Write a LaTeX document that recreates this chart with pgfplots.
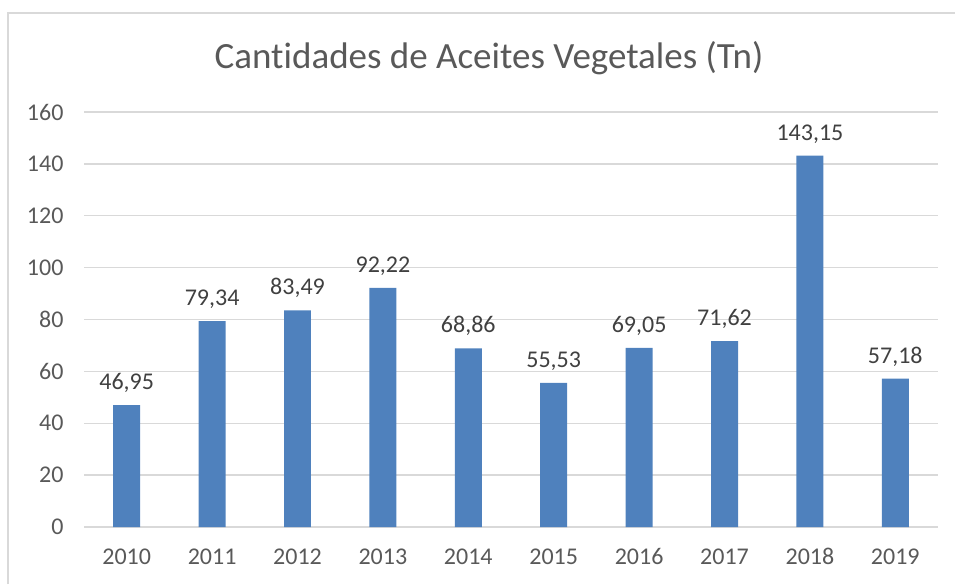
\documentclass[border=0pt]{standalone}
\usepackage{pgfplots}
\pgfplotsset{compat=1.18}
\usepackage{fontspec}
\setmainfont{Carlito}[Ligatures={NoCommon}]
\definecolor{barblue}{HTML}{4F81BD}
\definecolor{gridgray}{HTML}{D9D9D9}
\definecolor{ticktext}{HTML}{595959}
\definecolor{labeltext}{HTML}{404040}
\begin{document}
\begin{tikzpicture}[x=1pt,y=1pt]
\path[use as bounding box] (0,0) rectangle (955,584);
\draw[gridgray, line width=1.3pt] (8,0) -- (8,571) -- (955,571);
\node[text=ticktext, font=\fontsize{37}{44}\selectfont] at (489,526) {Cantidades de Aceites Vegetales (Tn)};
\begin{axis}[
    at={(84pt,57pt)}, anchor=south west,
    scale only axis, width=854pt, height=415pt,
    xmin=-0.5, xmax=9.5, ymin=0, ymax=160,
    ytick={0,20,...,160},
    xtick={0,...,9},
    xticklabels={2010,2011,2012,2013,2014,2015,2016,2017,2018,2019},
    ymajorgrids, grid style={gridgray, line width=1.3pt},
    axis line style={draw=none}, tick style={draw=none},
    ticklabel style={text=ticktext, font=\fontsize{24}{28}\selectfont},
    yticklabel style={xshift=-17pt},
    xticklabel style={yshift=-18pt},
    /pgf/number format/assume math mode=true,
    clip=false,
]
\addplot[ybar, bar width=0.316, fill=barblue, draw=none,
    nodes near coords,
    nodes near coords style={text=labeltext, font=\fontsize{24}{28}\selectfont, anchor=south, yshift=9pt,
      /pgf/number format/.cd, fixed, fixed zerofill, precision=2, use comma, assume math mode=true},
] coordinates {
(0,46.95) (1,79.34) (2,83.49) (3,92.22) (4,68.86)
(5,55.53) (6,69.05) (7,71.62) (8,143.15) (9,57.18)
};
\end{axis}
\end{tikzpicture}
\end{document}
